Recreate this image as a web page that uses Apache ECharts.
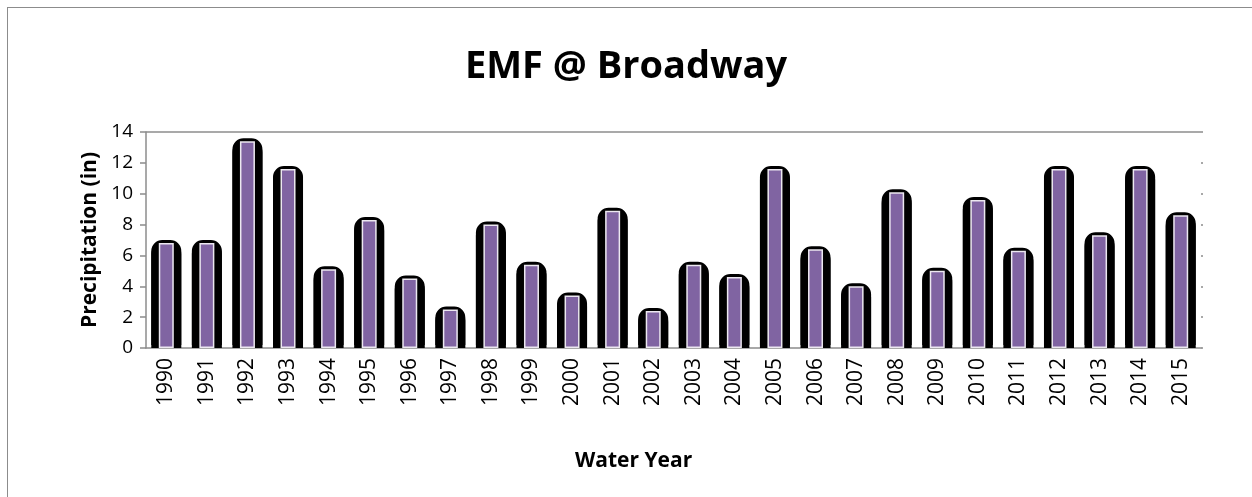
<!DOCTYPE html>
<html>
<head>
<meta charset="utf-8">
<script src="https://cdn.jsdelivr.net/npm/echarts@6/dist/echarts.min.js"></script>
<style>
html,body{margin:0;padding:0;background:#fff;}
#wrap{position:absolute;left:7px;top:7px;width:1260px;height:500px;border:1.5px solid #8c8c8c;box-sizing:border-box;}
#chart{position:absolute;left:0;top:0;width:1252px;height:497px;}
</style>
</head>
<body>
<div id="wrap"></div>
<div id="chart"></div>
<script>
var years = ['1990','1991','1992','1993','1994','1995','1996','1997','1998','1999','2000','2001','2002','2003','2004','2005','2006','2007','2008','2009','2010','2011','2012','2013','2014','2015'];
var precipitation = [6.8,6.8,13.4,11.6,5.1,8.3,4.5,2.5,8.0,5.4,3.4,8.9,2.4,5.4,4.6,11.6,6.4,4.0,10.1,5.0,9.6,6.3,11.6,7.3,11.6,8.6];
var yTicks = [0,2,4,6,8,10,12,14];

var FONT = '"Open Sans", "Liberation Sans", sans-serif';
var chart = echarts.init(document.getElementById('chart'), null, {renderer:'canvas'});
chart.setOption({
  animation:false,
  backgroundColor:'transparent',
  title:{
    text:'EMF @ Broadway', left:'center', top:43,
    textStyle:{fontFamily:FONT, fontSize:38, fontWeight:'bold', color:'#000'}
  },
  graphic:[{
    type:'text', left:575, top:451,
    style:{text:'Water Year', fontFamily:FONT, fontSize:21, fontWeight:'bold', fill:'#000'}
  }],
  grid:{left:146, right:51, top:132, bottom:149, containLabel:false},
  xAxis:[{
    type:'category', data:years,
    axisLine:{lineStyle:{color:'#8c8c8c', width:1.5}},
    axisTick:{alignWithLabel:false, length:6, lineStyle:{color:'#8c8c8c', width:1.5}},
    axisLabel:{rotate:90, fontFamily:FONT, fontSize:21, color:'#000', margin:10}
  },{
    type:'category', data:years, show:false
  }],
  yAxis:[{
    type:'value', min:0, max:14, interval:2,
    name:'Precipitation (in)', nameLocation:'middle', nameGap:40,
    nameTextStyle:{fontFamily:FONT, fontSize:21, fontWeight:'bold', color:'#000'},
    axisLine:{show:true, lineStyle:{color:'#8c8c8c', width:1.5}},
    axisTick:{show:true, length:6, lineStyle:{color:'#8c8c8c', width:1.5}},
    axisLabel:{fontFamily:FONT, fontSize:19, color:'#000', margin:13,
      formatter:function(v){return yTicks.indexOf(v)>=0?String(v):'';}},
    splitLine:{show:false}
  },{
    type:'value', min:0, max:14, interval:2, position:'right',
    axisLine:{show:false},
    axisTick:{show:true, length:2, lineStyle:{color:'#8c8c8c', width:1.5}},
    axisLabel:{show:false},
    splitLine:{show:false}
  }],
  series:[{
    type:'bar', data:precipitation, xAxisIndex:1, barWidth:30, z:2,
    itemStyle:{color:'#000', borderColor:'#000', borderWidth:2, borderRadius:[10,10,0,0],
      shadowColor:'#000', shadowBlur:0, shadowOffsetX:0, shadowOffsetY:-3},
    silent:true
  },{
    type:'bar', data:precipitation, xAxisIndex:0, barWidth:15, z:3,
    itemStyle:{color:'#8064a2', borderColor:'#ece8f0', borderWidth:1.5}
  },{
    type:'line', data:[], markLine:{silent:true, symbol:'none', label:{show:false},
      lineStyle:{color:'#8c8c8c', width:1.5, type:'solid'}, data:[{yAxis:14}]}
  }]
});
</script>
</body>
</html>
